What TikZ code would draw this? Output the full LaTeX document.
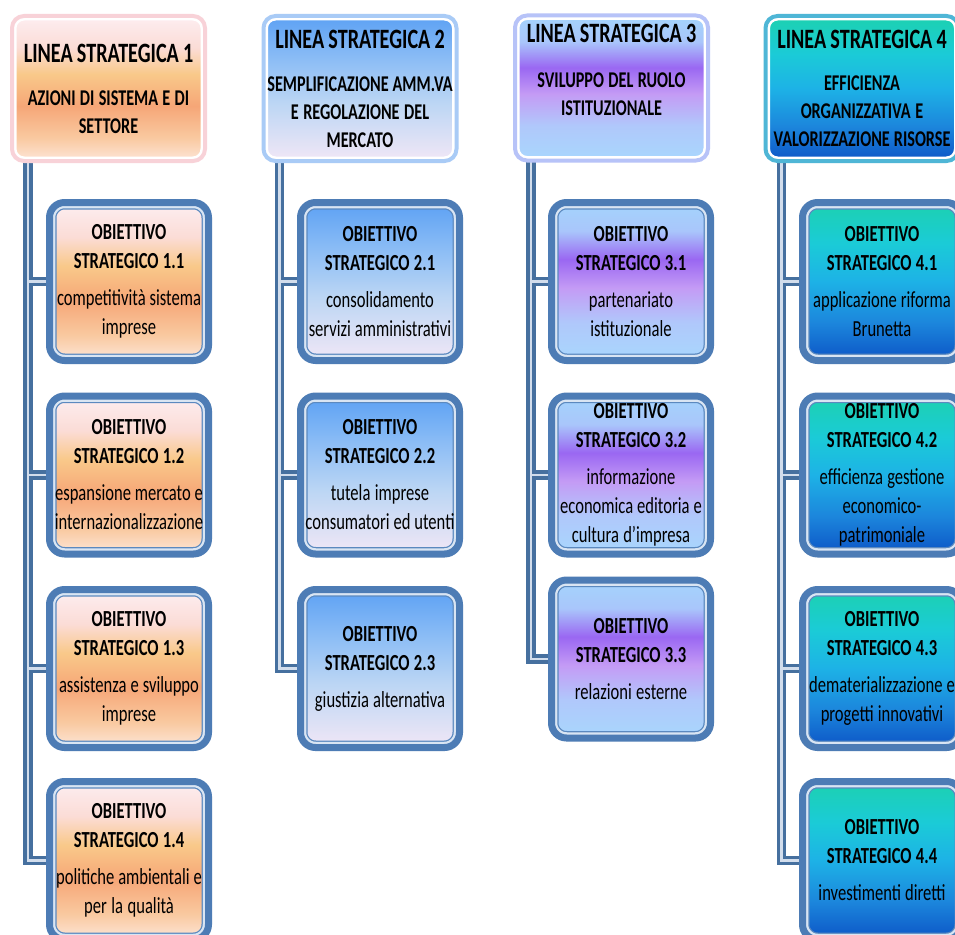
\documentclass[tikz,border=0pt]{standalone}
\usepackage{fontspec}
\setmainfont{Carlito}[FakeStretch=0.72]
\usetikzlibrary{calc}

\definecolor{objblue}{HTML}{4D7CB5}
\definecolor{objthin}{HTML}{5B89BF}
\definecolor{objlight}{HTML}{D9E5F3}
\definecolor{linkblue}{HTML}{46709F}
\definecolor{linklight}{HTML}{D2DDEC}
\definecolor{edgeone}{HTML}{F8D2D8}
\definecolor{edgetwo}{HTML}{A9CBF6}
\definecolor{edgethree}{HTML}{B7C3F8}
\definecolor{edgefour}{HTML}{4FB6D6}
% orange
\definecolor{or1}{HTML}{FDEEF1}
\definecolor{or2}{HTML}{FBDCD6}
\definecolor{or3}{HTML}{F9C98A}
\definecolor{or4}{HTML}{F6A677}
\definecolor{or5}{HTML}{F9C9A0}
\definecolor{or6}{HTML}{FDE6D8}
% blue
\definecolor{bl1}{HTML}{5CA1F4}
\definecolor{bl2}{HTML}{8CBDF5}
\definecolor{bl3}{HTML}{BCD6F4}
\definecolor{bl4}{HTML}{F1E7F6}
% purple
\definecolor{pu1}{HTML}{A4D4FC}
\definecolor{pu2}{HTML}{A9C6FB}
\definecolor{pu3}{HTML}{9A67F2}
\definecolor{pu4}{HTML}{C49BF5}
\definecolor{pu5}{HTML}{B0C8FB}
\definecolor{pu6}{HTML}{A8D7FD}
% teal
\definecolor{te1}{HTML}{1CD1B0}
\definecolor{te2}{HTML}{1BCBD7}
\definecolor{te3}{HTML}{1DB2E6}
\definecolor{te4}{HTML}{1C86DC}
\definecolor{te5}{HTML}{0C55C6}

\pgfdeclareverticalshading{lineaorange}{100bp}{color(0bp)=(or6); color(25bp)=(or6); color(33bp)=(or5); color(44bp)=(or4); color(55bp)=(or3); color(64bp)=(or2); color(75bp)=(or1); color(100bp)=(or1)}
\pgfdeclareverticalshading{lineablue}{100bp}{color(0bp)=(bl4); color(25bp)=(bl4); color(45bp)=(bl3); color(60bp)=(bl2); color(75bp)=(bl1); color(100bp)=(bl1)}
\pgfdeclareverticalshading{lineapurple}{100bp}{color(0bp)=(pu6); color(25bp)=(pu6); color(37bp)=(pu5); color(48bp)=(pu4); color(57bp)=(pu3); color(66bp)=(pu2); color(75bp)=(pu1); color(100bp)=(pu1)}
\pgfdeclareverticalshading{lineateal}{100bp}{color(0bp)=(te5); color(25bp)=(te5); color(37bp)=(te4); color(50bp)=(te3); color(62bp)=(te2); color(75bp)=(te1); color(100bp)=(te1)}

\pgfdeclarelayer{background}
\pgfsetlayers{background,main}

\begin{document}
\begin{tikzpicture}[x=1pt,y=-1pt]

    \tikzset{
      linea/.style={
        rounded corners=12pt,
        line width=4pt,
        minimum width=193pt,
        minimum height=145pt,
        text width=193pt,
        inner sep=0pt,
        align=center,
        font=\fontsize{22.5}{28}\selectfont\bfseries,
        execute at begin node={\spaceskip=3.9pt plus 1pt minus 1pt},
        path picture={\draw[white,line width=9pt,rounded corners=12pt] (path picture bounding box.south west) rectangle (path picture bounding box.north east);},
      },
      obiettivo/.style={
        rounded corners=15pt,
        draw=objblue,
        line width=7pt,
        minimum width=159pt,
        minimum height=158pt,
        text width=159pt,
        inner sep=0pt,
        align=center,
        font=\fontsize{23}{29}\selectfont,
        execute at begin node={\spaceskip=3.8pt plus 1pt minus 1pt},
        path picture={
          \draw[objthin,line width=14pt,rounded corners=15pt] (path picture bounding box.south west) rectangle (path picture bounding box.north east);
          \draw[objlight,line width=11.5pt,rounded corners=15pt] (path picture bounding box.south west) rectangle (path picture bounding box.north east);
        },
      },
      linkout/.style={draw=linkblue,line width=9.5pt},
      linkin/.style={draw=linklight,line width=2.5pt},
    }
    \useasboundingbox (0,0) rectangle (955,934);

    % linee strategiche
    \node[linea,shading=lineaorange,draw=edgeone] (h1) at (108.5,88.5) {{\fontsize{28}{32}\selectfont LINEA STRATEGICA 1}\\[15pt]AZIONI DI SISTEMA E DI\\SETTORE};
    \node[linea,shading=lineablue,draw=edgetwo] (h2) at (360,88.5) {{\fontsize{28}{32}\selectfont LINEA STRATEGICA 2}\\[15pt]SEMPLIFICAZIONE AMM.VA\\E REGOLAZIONE DEL\\MERCATO};
    \node[linea,shading=lineapurple,draw=edgethree] (h3) at (611.5,88) {{\fontsize{28}{32}\selectfont LINEA STRATEGICA 3}\\[17pt]SVILUPPO DEL RUOLO\\ISTITUZIONALE\\[9pt]\mbox{}};
    \node[linea,shading=lineateal,draw=edgefour] (h4) at (862,88.5) {{\fontsize{28}{32}\selectfont LINEA STRATEGICA 4}\\[14pt]EFFICIENZA\\ORGANIZZATIVA E\\VALORIZZAZIONE RISORSE};

    % obiettivi linea 1
    \node[obiettivo,shading=lineaorange] (o11) at (129,281.5) {\textbf{OBIETTIVO}\\\textbf{STRATEGICO 1.1}\\[8pt]competitività sistema\\imprese};
    \node[obiettivo,shading=lineaorange] (o12) at (129,475) {\textbf{OBIETTIVO}\\\textbf{STRATEGICO 1.2}\\[8pt]espansione mercato e\\internazionalizzazione};
    \node[obiettivo,shading=lineaorange] (o13) at (129,668.5) {\textbf{OBIETTIVO}\\\textbf{STRATEGICO 1.3}\\[8pt]assistenza e sviluppo\\imprese};
    \node[obiettivo,shading=lineaorange] (o14) at (129,860.5) {\textbf{OBIETTIVO}\\\textbf{STRATEGICO 1.4}\\[8pt]politiche ambientali e\\per la qualità};

    % obiettivi linea 2
    \node[obiettivo,shading=lineablue] (o21) at (380,281.5) {\textbf{OBIETTIVO}\\\textbf{STRATEGICO 2.1}\\[8pt]consolidamento\\servizi amministrativi};
    \node[obiettivo,shading=lineablue] (o22) at (380,475) {\textbf{OBIETTIVO}\\\textbf{STRATEGICO 2.2}\\[8pt]tutela imprese\\consumatori ed utenti};
    \node[obiettivo,shading=lineablue] (o23) at (380,668.5) {\textbf{OBIETTIVO}\\\textbf{STRATEGICO 2.3}\\[8pt]giustizia alternativa};

    % obiettivi linea 3
    \node[obiettivo,shading=lineapurple] (o31) at (631,281.5) {\textbf{OBIETTIVO}\\\textbf{STRATEGICO 3.1}\\[8pt]partenariato\\istituzionale};
    \node[obiettivo,shading=lineapurple] (o32) at (631,475) {\textbf{OBIETTIVO}\\\textbf{STRATEGICO 3.2}\\[8pt]informazione\\economica editoria e\\cultura d’impresa};
    \node[obiettivo,shading=lineapurple] (o33) at (631,659) {\textbf{OBIETTIVO}\\\textbf{STRATEGICO 3.3}\\[8pt]relazioni esterne};

    % obiettivi linea 4
    \node[obiettivo,shading=lineateal] (o41) at (882,281.5) {\textbf{OBIETTIVO}\\\textbf{STRATEGICO 4.1}\\[8pt]applicazione riforma\\Brunetta};
    \node[obiettivo,shading=lineateal] (o42) at (882,475) {\textbf{OBIETTIVO}\\\textbf{STRATEGICO 4.2}\\[8pt]efficienza gestione\\economico-\\patrimoniale};
    \node[obiettivo,shading=lineateal] (o43) at (882,668.5) {\textbf{OBIETTIVO}\\\textbf{STRATEGICO 4.3}\\[8pt]dematerializzazione e\\progetti innovativi};
    \node[obiettivo,shading=lineateal] (o44) at (882,860.5) {\textbf{OBIETTIVO}\\\textbf{STRATEGICO 4.4}\\[8pt]investimenti diretti};

    \coordinate (t1) at ($(h1.south west)+(18,-6)$);
    \coordinate (t2) at ($(h2.south west)+(18,-6)$);
    \coordinate (t3) at ($(h3.south west)+(18,-6)$);
    \coordinate (t4) at ($(h4.south west)+(18,-6)$);

    \begin{pgfonlayer}{background}
    \fill[white] (0,0) rectangle (955,934);
    \draw[linkout] (t1) |- (o14.west) (t1) |- (o13.west) (t1) |- (o12.west) (t1) |- (o11.west);
    \draw[linkout] (t2) |- (o23.west) (t2) |- (o22.west) (t2) |- (o21.west);
    \draw[linkout] (t3) |- (o33.west) (t3) |- (o32.west) (t3) |- (o31.west);
    \draw[linkout] (t4) |- (o44.west) (t4) |- (o43.west) (t4) |- (o42.west) (t4) |- (o41.west);
    \draw[linkin] (t1) |- (o14.west) (t1) |- (o13.west) (t1) |- (o12.west) (t1) |- (o11.west);
    \draw[linkin] (t2) |- (o23.west) (t2) |- (o22.west) (t2) |- (o21.west);
    \draw[linkin] (t3) |- (o33.west) (t3) |- (o32.west) (t3) |- (o31.west);
    \draw[linkin] (t4) |- (o44.west) (t4) |- (o43.west) (t4) |- (o42.west) (t4) |- (o41.west);
    \end{pgfonlayer}

\end{tikzpicture}
\end{document}
